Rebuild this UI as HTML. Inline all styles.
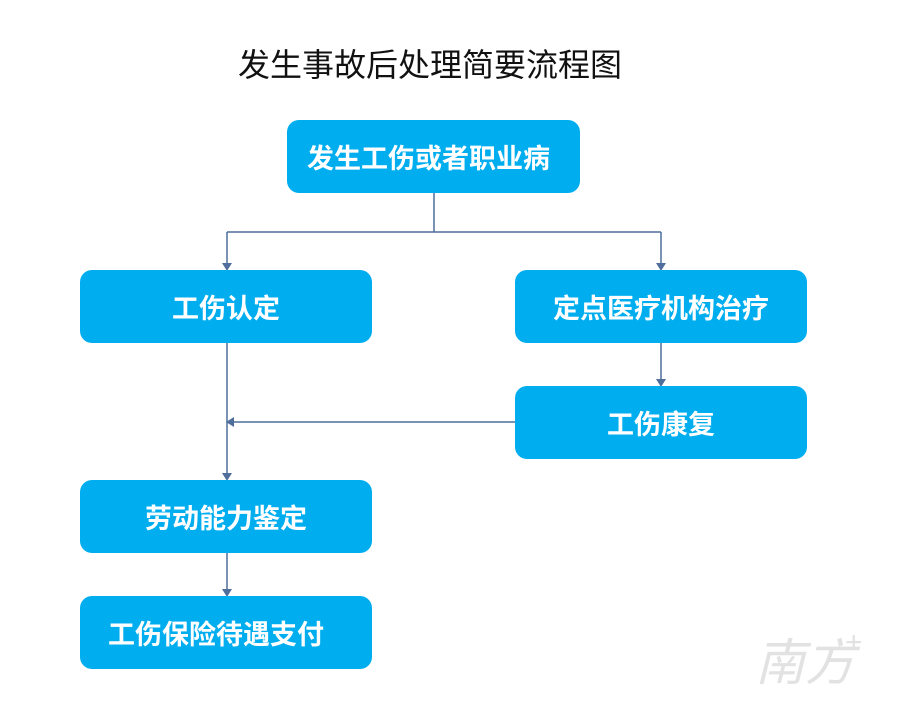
<!DOCTYPE html>
<html><head><meta charset="utf-8"><style>
body{margin:0;width:903px;height:719px;background:#fff;position:relative;overflow:hidden;font-family:"Liberation Sans","Noto Sans CJK SC",sans-serif}
.t{position:absolute;left:0;width:860px;top:40px;text-align:center;font-size:32px;color:#111}
.b{position:absolute;background:#00aeef;border-radius:12px;color:#fff;font-weight:bold;font-size:27px;display:flex;align-items:center;justify-content:center;height:73px}
svg{position:absolute;left:0;top:0}
</style></head><body>
<div class="t">发生事故后处理简要流程图</div>
<svg width="903" height="719">
<g stroke="#4f6e9c" stroke-width="1.5" fill="none">
<path d="M434 192V232M227 232H661M227 232V264M661 232V264M227 343V474M661 343V380M515 422H233M227 552V590"/>
</g>
<g fill="#4f6e9c">
<path d="M222 263L232 263L227 271Z"/><path d="M656 263L666 263L661 271Z"/>
<path d="M222 473L232 473L227 481Z"/><path d="M656 379L666 379L661 387Z"/>
<path d="M234 417L234 427L226 422Z"/><path d="M222 589L232 589L227 597Z"/>
</g>
<text x="755" y="680" font-size="50" fill="#e2e2e2" font-family="Noto Sans CJK SC" font-style="italic">南方</text>
<text x="845" y="652" font-size="30" fill="#e2e2e2">+</text>
</svg>
<div class="b" style="left:287px;top:120px;width:293px;padding-right:10px;box-sizing:border-box">发生工伤或者职业病</div>
<div class="b" style="left:80px;top:270px;width:292px">工伤认定</div>
<div class="b" style="left:515px;top:270px;width:292px">定点医疗机构治疗</div>
<div class="b" style="left:515px;top:386px;width:292px">工伤康复</div>
<div class="b" style="left:80px;top:480px;width:292px">劳动能力鉴定</div>
<div class="b" style="left:80px;top:596px;width:292px;justify-content:flex-start;padding-left:28px;box-sizing:border-box">工伤保险待遇支付</div>
</body></html>
